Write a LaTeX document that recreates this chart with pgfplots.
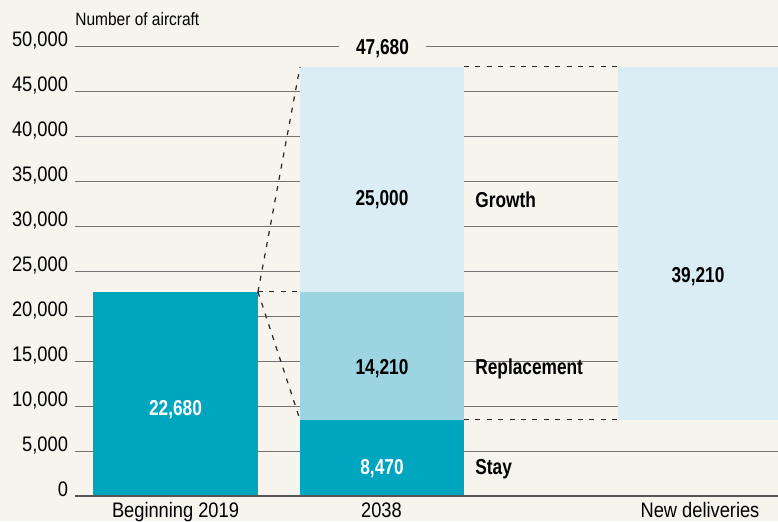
\documentclass[border=0pt]{standalone}
\usepackage{fontspec}
\setmainfont{Liberation Sans}[FakeStretch=0.87, BoldFeatures={FakeStretch=0.8}]
\usepackage{pgfplots}
\pgfplotsset{compat=1.18}
\definecolor{bgc}{RGB}{247,244,238}
\definecolor{dark}{RGB}{0,165,192}
\definecolor{mid}{RGB}{157,212,226}
\definecolor{light}{RGB}{219,237,244}
\definecolor{gridc}{RGB}{115,115,115}
\definecolor{basec}{RGB}{85,85,85}
\begin{document}
\begin{tikzpicture}
\fill[bgc] (0,0) rectangle (389pt,260.5pt);
\useasboundingbox (0,0) rectangle (389pt,260.5pt);
\begin{axis}[
  at={(37.5pt,12.5pt)}, anchor=south west, scale only axis,
  width=351.5pt, height=225pt,
  xmin=75, xmax=778, ymin=0, ymax=50000,
  clip=false,
  axis line style={draw=none},
  major tick length=0pt,
  ytick={0,5000,...,50000},
  ymajorgrids, grid style={draw=gridc, line width=0.5pt},
  xtick={175.5,381.5,700},
  xticklabels={Beginning 2019,2038,New deliveries},
  scaled y ticks=false,
  tick label style={font=\fontsize{10.5}{12}\selectfont, text=black},
  yticklabel style={anchor=base east, /pgf/number format/1000 sep={,}, /pgf/number format/assume math mode=true},
  xticklabel style={anchor=base, yshift=-10.5pt},
]
% bars
\addplot[fill=dark, draw=none, mark=none] coordinates {(93,0) (93,22680) (258,22680) (258,0)} -- cycle;
\addplot[fill=dark, draw=none, mark=none] coordinates {(300,0) (300,8470) (464,8470) (464,0)} -- cycle;
\addplot[fill=mid, draw=none, mark=none] coordinates {(300,8470) (300,22680) (464,22680) (464,8470)} -- cycle;
\addplot[fill=light, draw=none, mark=none] coordinates {(300,22680) (300,47680) (464,47680) (464,22680)} -- cycle;
\addplot[fill=light, draw=none, mark=none] coordinates {(618,8470) (618,47680) (778,47680) (778,8470)} -- cycle;
% baseline
\addplot[draw=basec, line width=1pt, mark=none] coordinates {(75,0) (778,0)};
% dashed connectors
\addplot[draw=black!85, line width=0.6pt, dash pattern=on 2.5pt off 3.2pt, mark=none] coordinates {(258,22680) (300,47680)};
\addplot[draw=black!85, line width=0.6pt, dash pattern=on 2.5pt off 3.2pt, mark=none] coordinates {(258,22680) (300,8470)};
\addplot[draw=black!85, line width=0.6pt, dash pattern=on 2.5pt off 3.2pt, mark=none] coordinates {(258,22680) (300,22680)};
\addplot[draw=black!85, line width=0.6pt, dash pattern=on 2.5pt off 3.2pt, mark=none] coordinates {(464,47680) (618,47680)};
\addplot[draw=black!85, line width=0.6pt, dash pattern=on 2.5pt off 3.2pt, mark=none] coordinates {(464,8470) (618,8470)};
% labels
\node[font=\fontsize{10.8}{12}\selectfont\bfseries, text=white] at (axis cs:175.5,9556) {22,680};
\node[font=\fontsize{10.8}{12}\selectfont\bfseries, text=white] at (axis cs:382,3000) {8,470};
\node[font=\fontsize{10.8}{12}\selectfont\bfseries] at (axis cs:382,14111) {14,210};
\node[font=\fontsize{10.8}{12}\selectfont\bfseries] at (axis cs:382,32889) {25,000};
\node[font=\fontsize{10.8}{12}\selectfont\bfseries] at (axis cs:698,24333) {39,210};
\node[font=\fontsize{10.8}{12}\selectfont\bfseries, anchor=west, inner xsep=0pt] at (axis cs:475,3000) {Stay};
\node[font=\fontsize{10.8}{12}\selectfont\bfseries, anchor=west, inner xsep=0pt] at (axis cs:475,14111) {Replacement};
\node[font=\fontsize{10.8}{12}\selectfont\bfseries, anchor=west, inner xsep=0pt] at (axis cs:475,32889) {Growth};
\node[font=\fontsize{10.8}{12}\selectfont\bfseries, fill=bgc, inner xsep=8.5pt, inner ysep=1pt] at (axis cs:382.5,49667) {47,680};
\node[font=\fontsize{8.9}{10}\selectfont, anchor=base west, inner xsep=0pt] at (axis cs:75,52333) {Number of aircraft};
\end{axis}
\end{tikzpicture}
\end{document}
